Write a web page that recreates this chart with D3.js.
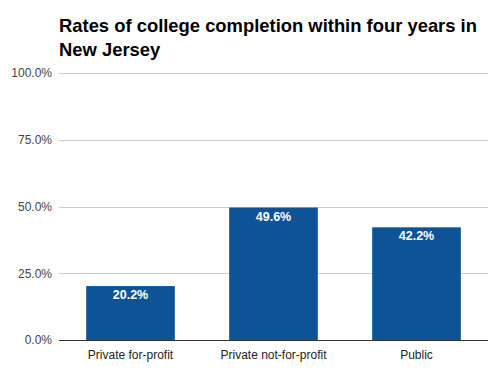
<!DOCTYPE html>
<html><head><meta charset="utf-8">
<script src="https://cdn.jsdelivr.net/npm/d3@7"></script>
<style>body{margin:0;background:#fff}svg{display:block}</style>
</head><body>
<script>
const categories = ["Private for-profit", "Private not-for-profit", "Public"];
const values = [20.2, 49.6, 42.2];
const yTicks = [0, 25, 50, 75, 100];
const titleLines = ["Rates of college completion within four years in", "New Jersey"];

const W = 503, H = 374;
const m = {left: 59, right: 15, top: 73, bottom: 34};
const svg = d3.select("body").append("svg").attr("width", W).attr("height", H);
const FONT = "'Liberation Sans', Arial, sans-serif";

const x = d3.scaleBand().domain(categories).range([m.left, W - m.right]).paddingInner(0.38).paddingOuter(0.19);
const y = d3.scaleLinear().domain([0, 100]).range([H - m.bottom, m.top]);

svg.append("g").selectAll("text").data(titleLines).join("text")
  .attr("x", m.left).attr("y", (d, i) => 32 + i * 24)
  .attr("font-family", FONT).attr("font-weight", "bold")
  .attr("font-size", 18.4).attr("fill", "#000").text(d => d);

const yAxis = d3.axisLeft(y).tickValues(yTicks).tickSize(-(W - m.left - m.right)).tickPadding(7)
  .tickFormat(d => d.toFixed(1) + "%");
const gy = svg.append("g").attr("transform", `translate(${m.left},0)`).call(yAxis);
gy.select(".domain").remove();
gy.selectAll(".tick line").attr("stroke", "#ccc").attr("shape-rendering", "crispEdges");
gy.selectAll(".tick text").attr("font-family", FONT).attr("font-size", 12).attr("fill", "#444");

svg.append("g").selectAll("rect").data(values).join("rect")
  .attr("x", (d, i) => x(categories[i])).attr("width", x.bandwidth())
  .attr("y", d => y(d)).attr("height", d => y(0) - y(d)).attr("fill", "#0e5396");

svg.append("g").selectAll("text").data(values).join("text")
  .attr("x", (d, i) => x(categories[i]) + x.bandwidth() / 2).attr("y", d => y(d) + 13)
  .attr("text-anchor", "middle").attr("font-family", FONT)
  .attr("font-weight", "bold").attr("font-size", 12.5).attr("fill", "#fff")
  .text(d => d.toFixed(1) + "%");

svg.append("line").attr("x1", m.left).attr("x2", W - m.right).attr("y1", y(0)).attr("y2", y(0))
  .attr("stroke", "#333").attr("shape-rendering", "crispEdges");

const xAxis = d3.axisBottom(x).tickSize(0).tickPadding(10);
const gx = svg.append("g").attr("transform", `translate(0,${y(0)})`).call(xAxis);
gx.select(".domain").remove();
gx.selectAll(".tick text").attr("font-family", FONT).attr("font-size", 12).attr("fill", "#222");
</script>
</body></html>
